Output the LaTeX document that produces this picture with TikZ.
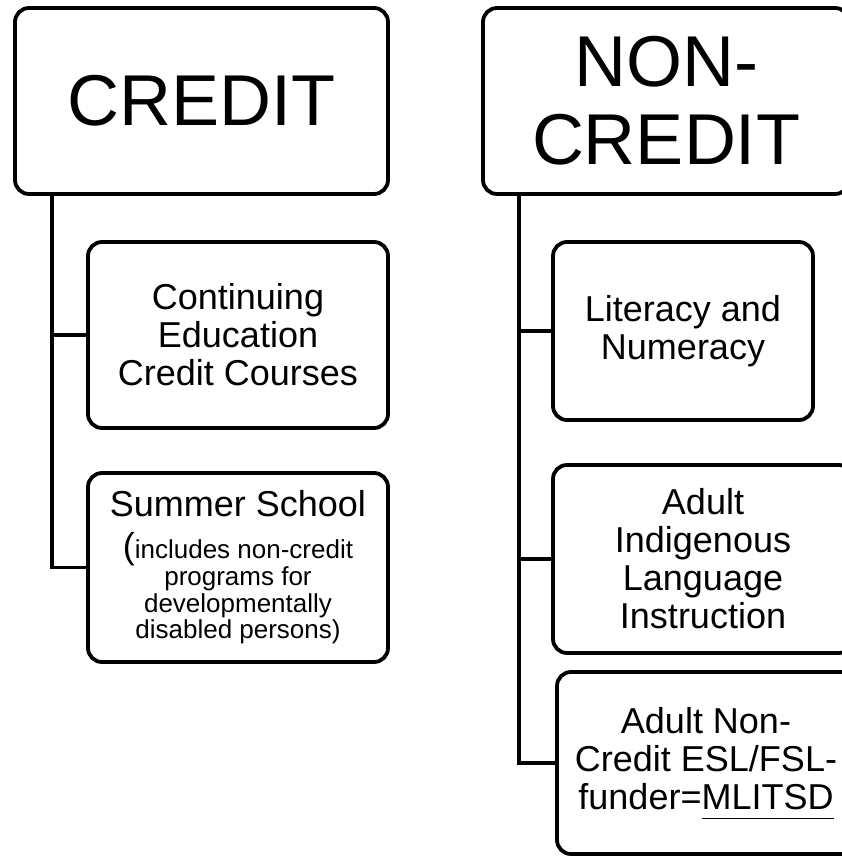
\documentclass[tikz,border=0pt]{standalone}
\usepackage{fontspec}
\setmainfont{Liberation Sans}
\usepackage{tikz}

\tikzset{
	box/.style={draw,line width=3.8pt,rounded corners=14pt,align=center,inner sep=0pt},
	link/.style={line width=3.8pt}
}
\newcommand{\bigtxt}{\fontsize{72}{78}\selectfont}
\newcommand{\midtxt}{\fontsize{36}{38}\selectfont}
\newcommand{\smalltxt}{\fontsize{26}{26.7}\selectfont}
\newcommand{\uline}[1]{\underline{#1\vphantom{g}}}

\begin{document}
\begin{tikzpicture}[x=1pt,y=-1pt]
			\useasboundingbox (0,0) rectangle (842,856);
			\clip (0,0) rectangle (842,856);
			\node[box,font=\bigtxt,minimum width=373pt,minimum height=186pt] (credit) at (201.5,101) {CREDIT};
			\node[box,font=\midtxt,minimum width=300pt,minimum height=186pt] (contedu) at (238,335) {Continuing\\Education\\Credit Courses};
			\node[box,font=\smalltxt,minimum width=300pt,minimum height=189pt] (summer) at (238,567.5) {{\midtxt Summer School}\\[15pt]{\midtxt(}includes non-credit\\programs for\\developmentally\\disabled persons)};
			\node[box,font=\bigtxt,minimum width=366pt,minimum height=186pt] (noncredit) at (666,101) {NON-\\CREDIT};
			\node[box,font=\midtxt,minimum width=260pt,minimum height=178pt] (literacy) at (683,331) {Literacy and\\Numeracy};
			\node[box,font=\midtxt,minimum width=300pt,minimum height=188pt] (indigenous) at (703,559) {Adult\\Indigenous\\Language\\Instruction};
			\node[box,font=\midtxt,minimum width=298pt,minimum height=182pt] (esl) at (706,763) {Adult Non-\\Credit ESL/FSL-\\funder=\uline{MLITSD}};
			\coordinate (trunkL) at (52,0);
			\coordinate (trunkR) at (519,0);
			\draw[link] (trunkL |- credit.south) |- (summer.west);
			\draw[link] (trunkL |- contedu.west) -- (contedu.west);
			\draw[link] (trunkR |- noncredit.south) |- (esl.west);
			\draw[link] (trunkR |- literacy.west) -- (literacy.west);
			\draw[link] (trunkR |- indigenous.west) -- (indigenous.west);
		\end{tikzpicture}
\end{document}
